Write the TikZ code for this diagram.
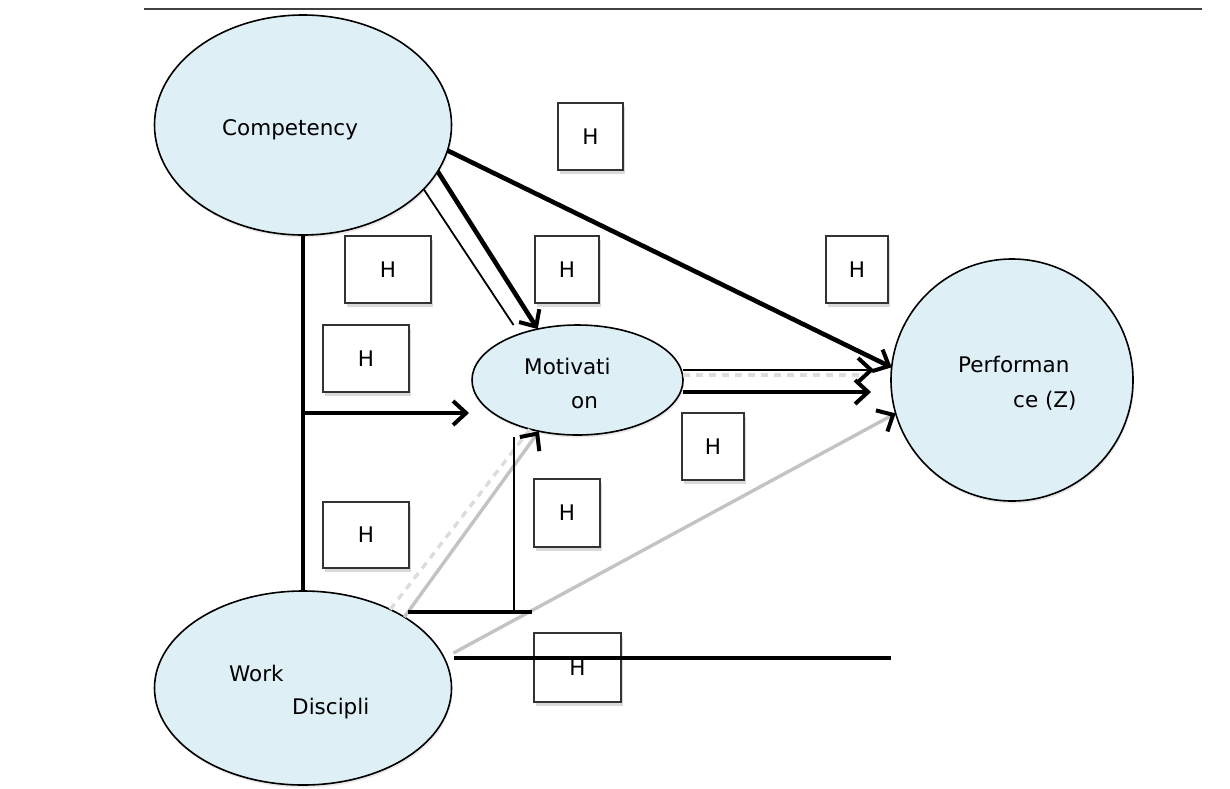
\documentclass[tikz,border=0pt]{standalone}
\usepackage{fontspec}
\setmainfont{DejaVu Sans}
\usetikzlibrary{positioning,arrows.meta,shapes.geometric,shadows,calc}
\definecolor{cfill}{RGB}{223,239,246}
\definecolor{faint}{RGB}{195,195,195}
\definecolor{fainter}{RGB}{220,220,220}
\tikzset{
  construct/.style={ellipse, draw=black, line width=1.6pt, fill=cfill, inner sep=0pt, outer sep=0pt,
    drop shadow={shadow xshift=1pt, shadow yshift=-2.5pt, opacity=0.18}},
  hbox/.style={rectangle, draw=black!80, line width=1.7pt, fill=white, inner sep=0pt, outer sep=0pt,
    font=\fontsize{21.5}{25}\selectfont,
    drop shadow={shadow xshift=1.5pt, shadow yshift=-3.5pt, opacity=0.3}},
  lbl/.style={inner sep=0pt, anchor=base west, font=\fontsize{21.5}{25}\selectfont},
  chev/.tip={Straight Barb[length=13pt,width=24pt,line width=4pt]},
  chevk/.tip={Straight Barb[length=13pt,width=24pt,line width=4pt,color=black]},
  bold path/.style={line width=4.6pt},
  thin path/.style={line width=1.8pt},
  ghost path/.style={line width=3.4pt},
}
\begin{document}
\begin{tikzpicture}[x=1pt,y=-1pt]
  \useasboundingbox (0,0) rectangle (1230,788);
  \draw[line width=1.8pt, black!75] (144,9) -- (1202,9);
  % constructs
  \node[construct, minimum width=297pt, minimum height=220pt] (comp) at (303,125) {};
  \node[construct, minimum width=211pt, minimum height=110pt] (mot) at (577.5,380) {};
  \node[construct, circle, minimum size=242pt] (perf) at (1012,380) {};
  \node[construct, minimum width=297pt, minimum height=194pt] (wd) at (303,688) {};
  \node[lbl] (compT) at (222,135) {Competency};
  \node[lbl] (motT1) at (524,374) {Motivati};
  \node[lbl] (motT2) at (571,408) {on};
  \node[lbl] (perfT1) at (958,372) {Performan};
  \node[lbl] (perfT2) at (1013,407) {ce (Z)};
  \node[lbl] (wdT1) at (229,681) {Work};
  \node[lbl] (wdT2) at (292,714) {Discipli};
  % hypothesis boxes
  \foreach \n/\x/\y/\w/\h in {1/590.5/136.5/65/67, 2/388/269.5/86/67, 3/366/358.5/86/67,
      4/567/269.5/64/67, 5/857/269.5/62/67, 6/713/446.5/62/67,
      7/567/513/66/68, 8/366/535/86/66, 9/577.5/667.5/87/69}
    \node[hbox, minimum width=\w pt, minimum height=\h pt] (h\n) at (\x,\y) {H};
  % faint paths from work discipline
  \draw[ghost path, draw=fainter, dash pattern=on 7pt off 6pt] (wd.42) -- (mot.-134);
  \draw[ghost path, draw=faint, -chevk] (wd.35) -- (mot.-127);
  \draw[ghost path, draw=faint, -chevk] ($(wd.east)+(2,-35)$) -- (perf.196);
  % competency
  \draw[bold path, -chev] (comp.-10) -- (perf.174);
  \draw[bold path, -chev] (comp.-19) -- (mot.128);
  \draw[thin path] (comp.-28) -- ($(mot.north)+(-64,0)$);
  \draw[bold path] (comp.south) -- (wd.north);
  \coordinate (fork) at ($(comp.south)!0.5!(wd.north)$);
  \draw[bold path, -chev, shorten >=3pt] (fork) -- (fork -| mot.west);
  % motivation to performance
  \draw[ghost path, draw=fainter, dash pattern=on 7pt off 6pt] ($(mot.east)+(0,-5)$) -- ($(perf.west)+(-32,-5)$);
  \draw[thin path, -chev] ($(mot.east)+(0,-10)$) -- ($(perf.west)+(-17,-10)$);
  \draw[bold path, -chev] ($(mot.east)+(0,12)$) -- ($(perf.west)+(-20,12)$);
  % work discipline
  \coordinate (wdout) at ($(wd.east)+(2,-30)$);
  \draw[bold path] (wdout) -- (wdout -| perf.west);
  \coordinate (tl) at (408,612);
  \coordinate (tr) at (532,612);
  \coordinate (tv) at (514,437);
  \draw[bold path] (tl) -- (tr);
  \draw[thin path] (tv) -- (tv |- tl);
\end{tikzpicture}
\end{document}
